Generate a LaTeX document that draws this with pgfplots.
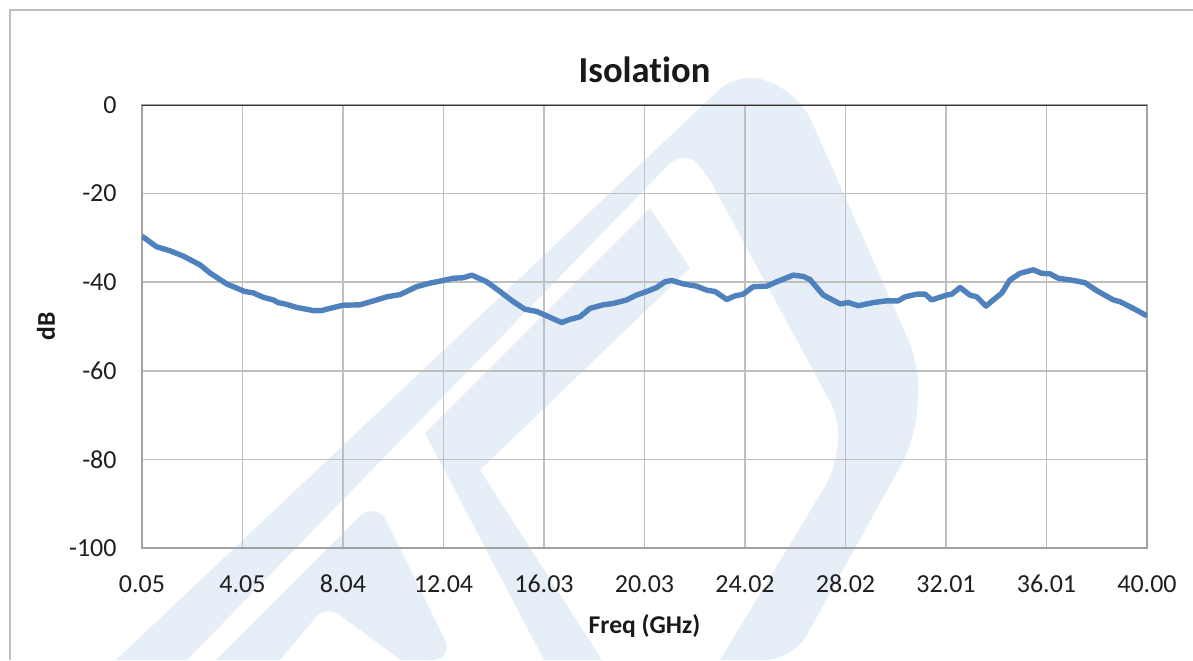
\documentclass[border=0pt]{standalone}
\usepackage{pgfplots}
\pgfplotsset{compat=1.18}
\usepackage{fontspec}
\setmainfont{Carlito}[Ligatures=NoCommon]

\definecolor{lineblue}{HTML}{4F81BD}
\definecolor{gridgray}{HTML}{BFBFBF}
\definecolor{wmark}{HTML}{E6EEF7}

\begin{document}
\begin{tikzpicture}
\useasboundingbox (-71pt,-56pt) rectangle (525.5pt,274pt);
% faint logo in the background
\fill[wmark, rounded corners=14pt] (-13pt,-56pt) -- (299pt,239pt) -- (329pt,226.5pt)
  -- (389pt,91pt) -- (386.5pt,54pt) -- (325.5pt,-56pt) [sharp corners] -- (289pt,-56pt)
  [rounded corners=10pt] -- (346.5pt,39pt) -- (349pt,64pt) -- (280.5pt,190.5pt)
  -- (270.5pt,199pt) [sharp corners] -- (22.5pt,-56pt) -- cycle;
\fill[wmark] (141.5pt,57.5pt) -- (254pt,170pt) -- (274pt,140pt) -- (169pt,39pt)
  -- (230pt,-56pt) -- (201pt,-56pt) -- cycle;
\fill[wmark, rounded corners=12pt] (37pt,-56pt) -- (117pt,24pt) -- (156.5pt,-56pt)
  [sharp corners] -- (129.5pt,-56pt) [rounded corners=8pt] -- (92pt,-28.5pt)
  [sharp corners] -- (69pt,-56pt) -- cycle;
\draw[gridgray, line width=1pt] (-66pt,-56pt) -- (-66pt,269pt) -- (525.5pt,269pt);
\begin{axis}[
    scale only axis,
    width=502.5pt, height=221.5pt,
    xmin=0.05, xmax=40.00,
    ymin=-100, ymax=0,
    xtick={0.05,4.045,8.04,12.035,16.03,20.025,24.02,28.015,32.01,36.005,40.00},
    xticklabels={0.05,4.05,8.04,12.04,16.03,20.03,24.02,28.02,32.01,36.01,40.00},
    ytick={-100,-80,-60,-40,-20,0},
    major tick length=0pt,
    grid=major,
    major grid style={gridgray, line width=0.8pt},
    axis line style={draw=gridgray!85!black, line width=0.8pt},
    tick label style={font=\fontsize{13}{15}\selectfont, text=black!88},
    /pgf/number format/assume math mode=true,
    xticklabel style={anchor=base, yshift=-22pt},
    yticklabel style={anchor=east, inner sep=0pt, xshift=-12.5pt},
    title={\textbf{Isolation}},
    title style={font=\fontsize{18.3}{20}\selectfont, at={(rel axis cs:0.5,1)}, anchor=base, yshift=5.5pt, text=black!90},
    xlabel={\textbf{Freq (GHz)}},
    xlabel style={font=\fontsize{12.8}{14}\selectfont, at={(rel axis cs:0.5,0)}, anchor=base, yshift=-42.5pt, text=black!90},
    ylabel={\textbf{dB}},
    ylabel style={font=\fontsize{12.8}{14}\selectfont, at={([xshift=-43.5pt]rel axis cs:0,0.5)}, anchor=base, text=black!90},
]
\addplot[lineblue, line width=2.7pt, line join=round] coordinates {
(0.05,-29.6) (0.63,-32.0) (1.16,-32.9) (1.69,-34.1) (2.36,-36.1) (2.75,-37.9)
(3.42,-40.4) (4.14,-42.1) (4.47,-42.4) (4.87,-43.4) (5.27,-44.0) (5.46,-44.6)
(5.80,-45.0) (6.20,-45.7) (6.86,-46.4) (7.19,-46.4) (7.52,-45.9) (8.05,-45.2)
(8.72,-45.1) (9.38,-44.0) (9.78,-43.3) (10.31,-42.8) (10.97,-41.0) (11.50,-40.2)
(12.03,-39.6) (12.42,-39.1) (12.82,-39.0) (13.16,-38.4) (13.75,-39.9) (14.28,-42.1)
(14.81,-44.4) (15.27,-46.1) (15.74,-46.6) (16.14,-47.6) (16.73,-49.1) (17.06,-48.4)
(17.46,-47.8) (17.86,-45.9) (18.39,-45.1) (18.78,-44.8) (19.32,-44.0) (19.71,-42.9)
(20.11,-42.1) (20.51,-41.2) (20.84,-39.9) (21.11,-39.6) (21.57,-40.4) (22.10,-40.9)
(22.50,-41.8) (22.83,-42.1) (23.29,-43.9) (23.62,-43.1) (23.95,-42.7) (24.35,-41.0)
(24.88,-40.9) (25.28,-39.9) (25.94,-38.4) (26.34,-38.7) (26.60,-39.4) (27.13,-42.9)
(27.80,-44.9) (28.13,-44.6) (28.52,-45.3) (29.12,-44.6) (29.65,-44.2) (30.11,-44.2)
(30.38,-43.3) (30.85,-42.7) (31.18,-42.7) (31.44,-44.0) (32.04,-42.9) (32.24,-42.7)
(32.57,-41.2) (32.96,-42.9) (33.23,-43.3) (33.60,-45.4) (33.89,-44.0) (34.22,-42.5)
(34.55,-39.5) (34.95,-38.0) (35.48,-37.2) (35.81,-38.0) (36.14,-38.1) (36.47,-39.1)
(37.07,-39.6) (37.53,-40.1) (38.00,-41.9) (38.66,-44.0) (38.93,-44.4) (39.45,-45.9)
(40.00,-47.6)
};
\draw[black!80, line width=1pt] (rel axis cs:0,1) -- (rel axis cs:1,1);
\end{axis}
\end{tikzpicture}
\end{document}
